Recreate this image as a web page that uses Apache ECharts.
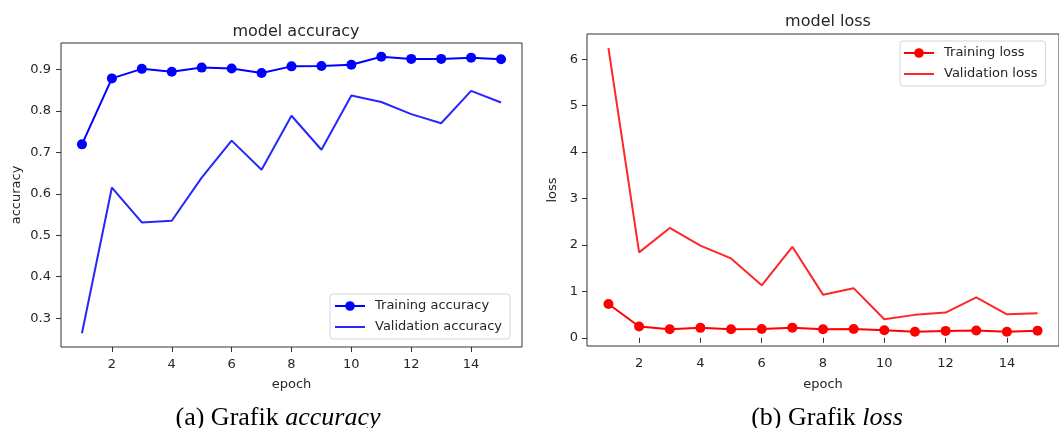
<!DOCTYPE html>
<html>
<head>
<meta charset="utf-8">
<script src="https://cdn.jsdelivr.net/npm/echarts@6/dist/echarts.min.js"></script>
<style>
html,body{margin:0;padding:0;background:#fff;}
#c{width:1059px;height:428px;}
</style>
</head>
<body>
<div id="c"></div>
<script>
const epochs = [1,2,3,4,5,6,7,8,9,10,11,12,13,14,15];
const trainAcc = [0.719,0.878,0.901,0.894,0.904,0.902,0.891,0.907,0.908,0.911,0.930,0.925,0.925,0.928,0.924];
const valAcc = [0.264,0.615,0.531,0.535,0.639,0.728,0.658,0.788,0.706,0.837,0.821,0.792,0.770,0.848,0.820];
const trainLoss = [0.73,0.243,0.185,0.215,0.185,0.19,0.22,0.185,0.19,0.165,0.13,0.15,0.16,0.13,0.155];
const valLoss = [6.237,1.84,2.366,1.985,1.71,1.13,1.96,0.93,1.07,0.40,0.495,0.545,0.873,0.507,0.53];
const xTicks = [2,4,6,8,10,12,14];
const accTicks = [0.3,0.4,0.5,0.6,0.7,0.8,0.9];
const lossTicks = [0,1,2,3,4,5,6];

function pad(arrs){
  const all = [].concat(...arrs);
  const mn = Math.min(...all), mx = Math.max(...all);
  const m = (mx - mn) * 0.05;
  return [mn - m, mx + m];
}
const xr = pad([epochs]);
const ar = pad([trainAcc, valAcc]);
const lr = pad([trainLoss, valLoss]);
const pairs = (ys) => epochs.map((e,i)=>[e, ys[i]]);

const FONT = 'DejaVu Sans';
const TXT = '#262626';
const axisCommon = {
  axisLine:{show:false},
  axisTick:{show:true, inside:false, length:5, lineStyle:{color:'#333', width:1}},
  splitLine:{show:false},
  nameTextStyle:{fontFamily:FONT, fontSize:13, color:TXT},
};
function xAx(gi, gap){
  return Object.assign({}, axisCommon, {
    type:'value', gridIndex:gi, min:xr[0], max:xr[1],
    name:'epoch', nameLocation:'middle', nameGap:gap,
    axisTick:Object.assign({}, axisCommon.axisTick, {customValues:xTicks}),
    axisLabel:{customValues:xTicks, fontFamily:FONT, fontSize:13, color:TXT, margin:11}
  });
}
function yAx(gi, rng, ticks, name, gap, dec, margin){
  return Object.assign({}, axisCommon, {
    type:'value', gridIndex:gi, min:rng[0], max:rng[1],
    name:name, nameLocation:'middle', nameGap:gap, nameRotate:90,
    axisTick:Object.assign({}, axisCommon.axisTick, {customValues:ticks}),
    axisLabel:{customValues:ticks, fontFamily:FONT, fontSize:13, color:TXT, margin:margin,
      formatter:(v)=>v.toFixed(dec)}
  });
}
const BLUE = '#0000ff', BLUE2 = '#2626ff', RED = '#ff0000', RED2 = '#ff2626';
function lineSeries(name, xi, data, color, marker){
  return {
    type:'line', name:name, xAxisIndex:xi, yAxisIndex:xi, data:data,
    symbol: marker ? 'circle' : 'none', symbolSize:10, showSymbol:!!marker,
    lineStyle:{color:color, width:2}, itemStyle:{color:color},
    animation:false, silent:true
  };
}
function legendCfg(names, left, top, pad){
  return {
    data:[{name:names[0]}, {name:names[1], itemStyle:{opacity:0}}],
    orient:'vertical', left:left, top:top,
    itemWidth:30, itemHeight:12, itemGap:7,
    padding:pad, backgroundColor:'#fff', borderColor:'#d5d5d5', borderWidth:1, borderRadius:3,
    textStyle:{fontFamily:FONT, fontSize:13, color:TXT, lineHeight:14, padding:[0,0,0,5]},
    selectedMode:false
  };
}
const capRich = {
  n:{fontFamily:'Liberation Serif', fontSize:26, fontWeight:'normal', color:'#000'},
  i:{fontFamily:'Liberation Serif', fontSize:26, fontWeight:'normal', fontStyle:'italic', color:'#000'}
};

const chart = echarts.init(document.getElementById('c'), null, {renderer:'canvas'});
chart.setOption({
  backgroundColor:'#fff',
  animation:false,
  title:[
    {text:'model accuracy', left:291, top:19, textAlign:'center',
     textStyle:{fontFamily:FONT, fontSize:16, fontWeight:'normal', color:TXT}},
    {text:'model loss', left:823, top:9, textAlign:'center',
     textStyle:{fontFamily:FONT, fontSize:16, fontWeight:'normal', color:TXT}},
    {text:'{n|(a) Grafik }{i|accuracy}', left:273, top:400, textAlign:'center',
     textStyle:{fontWeight:'normal', rich:capRich}},
    {text:'{n|(b) Grafik }{i|loss}', left:822, top:400, textAlign:'center',
     textStyle:{fontWeight:'normal', rich:capRich}}
  ],
  grid:[
    {left:61, top:43, width:461, height:304, show:true, borderColor:'#333', borderWidth:1, backgroundColor:'transparent'},
    {left:587, top:34, width:473, height:312, show:true, borderColor:'#333', borderWidth:1, backgroundColor:'transparent'}
  ],
  xAxis:[xAx(0, 31), xAx(1, 32)],
  yAxis:[yAx(0, ar, accTicks, 'accuracy', 38, 1, 10), yAx(1, lr, lossTicks, 'loss', 28, 0, 9)],
  legend:[
    legendCfg(['Training accuracy','Validation accuracy'], 330, 294, [5,8,5,4]),
    legendCfg(['Training loss','Validation loss'], 900, 41, [5,8,5,3])
  ],
  series:[
    lineSeries('Training accuracy', 0, pairs(trainAcc), BLUE, true),
    lineSeries('Validation accuracy', 0, pairs(valAcc), BLUE2, false),
    lineSeries('Training loss', 1, pairs(trainLoss), RED, true),
    lineSeries('Validation loss', 1, pairs(valLoss), RED2, false)
  ]
});
</script>
</body>
</html>
